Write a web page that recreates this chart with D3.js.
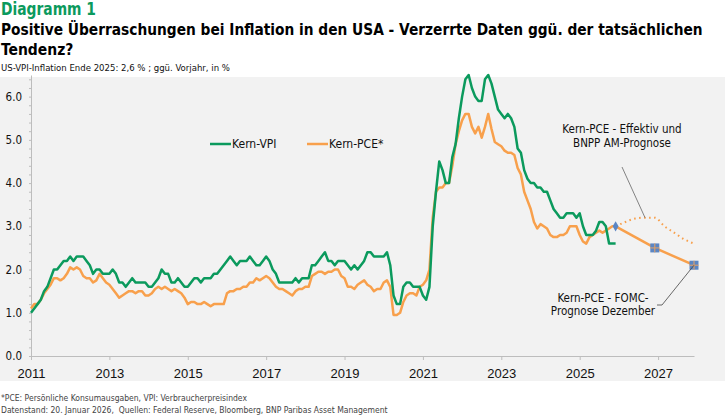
<!DOCTYPE html>
<html lang="de">
<head>
<meta charset="UTF-8">
<title>Diagramm 1</title>
<style>
  body { margin: 0; background: #fff; }
  svg { display: block; font-family: "Liberation Sans Narrow", "DejaVu Sans Condensed", "DejaVu Sans", sans-serif; font-stretch: condensed; }
</style>
</head>
<body>
<script src="https://cdn.jsdelivr.net/npm/d3@7"></script>
<script>
// Monatswerte ab Jan 2011, % ggü. Vorjahr
var startYear = 2011;
var kernVpi = [
  1.0, 1.1, 1.2, 1.3, 1.5, 1.6, 1.8, 2.0, 2.0, 2.1, 2.2, 2.2,
  2.3, 2.2, 2.3, 2.3, 2.3, 2.2, 2.1, 1.9, 2.0, 2.0, 1.9, 1.9,
  1.9, 2.0, 1.9, 1.7, 1.7, 1.6, 1.7, 1.8, 1.7, 1.7, 1.7, 1.7,
  1.6, 1.6, 1.7, 1.8, 2.0, 1.9, 1.9, 1.7, 1.7, 1.8, 1.7, 1.6,
  1.6, 1.7, 1.8, 1.8, 1.7, 1.8, 1.8, 1.8, 1.9, 1.9, 2.0, 2.1,
  2.2, 2.3, 2.2, 2.1, 2.2, 2.2, 2.2, 2.3, 2.2, 2.1, 2.1, 2.2,
  2.3, 2.2, 2.0, 1.9, 1.7, 1.7, 1.7, 1.7, 1.7, 1.8, 1.7, 1.8,
  1.8, 1.8, 2.1, 2.1, 2.2, 2.3, 2.4, 2.2, 2.2, 2.1, 2.2, 2.2,
  2.2, 2.1, 2.0, 2.1, 2.0, 2.1, 2.2, 2.4, 2.4, 2.3, 2.3, 2.3,
  2.3, 2.4, 2.1, 1.4, 1.2, 1.2, 1.6, 1.7, 1.7, 1.6, 1.6, 1.6,
  1.4, 1.3, 1.6, 3.0, 3.8, 4.5, 4.3, 4.0, 4.0, 4.6, 4.9, 5.5,
  6.0, 6.4, 6.5, 6.2, 6.0, 5.9, 5.9, 6.4, 6.5, 6.3, 6.0, 5.7,
  5.6, 5.5, 5.6, 5.5, 5.3, 4.8, 4.7, 4.3, 4.1, 4.0, 4.0, 3.9,
  3.9, 3.8, 3.8, 3.6, 3.4, 3.3, 3.2, 3.2, 3.3, 3.3, 3.3, 3.2,
  3.3, 3.0, 2.8, 2.8, 2.8, 2.9, 3.1, 3.1, 3.0, 2.6, 2.6, 2.6
];
var kernPce = [
  1.1, 1.2, 1.2, 1.3, 1.45, 1.55, 1.65, 1.8, 1.8, 1.75, 1.8, 1.9,
  2.05, 2.0, 2.05, 2.0, 1.85, 1.8, 1.8, 1.7, 1.75, 1.9, 1.8, 1.7,
  1.65, 1.55, 1.45, 1.35, 1.4, 1.45, 1.5, 1.5, 1.45, 1.5, 1.5, 1.4,
  1.4, 1.45, 1.55, 1.6, 1.55, 1.6, 1.55, 1.5, 1.55, 1.5, 1.45, 1.35,
  1.2, 1.25, 1.25, 1.2, 1.2, 1.25, 1.2, 1.15, 1.2, 1.2, 1.2, 1.2,
  1.45, 1.5, 1.5, 1.55, 1.55, 1.6, 1.6, 1.7, 1.7, 1.8, 1.75, 1.8,
  1.85, 1.8, 1.7, 1.6, 1.55, 1.55, 1.5, 1.45, 1.4, 1.5, 1.55, 1.55,
  1.6, 1.6, 1.85, 1.9, 1.95, 1.95, 1.9, 1.95, 1.95, 2.0, 2.0, 1.85,
  1.8, 1.6, 1.6, 1.55, 1.65, 1.7, 1.75, 1.65, 1.6, 1.5, 1.55, 1.55,
  1.7, 1.75, 1.6, 0.95, 0.95, 1.0, 1.25, 1.4, 1.45, 1.45, 1.4, 1.6,
  1.65, 1.75, 2.0, 3.2, 3.8, 3.9, 3.9, 4.0, 4.0, 4.4, 4.9, 5.2,
  5.45, 5.6, 5.6, 5.3, 5.15, 5.3, 5.05, 5.3, 5.6, 5.25, 4.95, 4.9,
  4.85, 4.75, 4.7, 4.7, 4.65, 4.35, 4.2, 3.8, 3.6, 3.4, 3.1, 2.95,
  3.05, 3.0, 2.95, 2.8, 2.75, 2.75, 2.8, 2.8, 2.85, 3.0, 3.0, 3.0,
  2.8, 2.65, 2.6, 2.75, 2.8, 2.85, 2.9, 2.85, 2.9, 2.95, 3.0
];
// Prognosen (Jahr als Dezimalzahl, Dez = x + 11/12)
var fomcDates = [2025 + 11 / 12, 2026 + 11 / 12, 2027 + 11 / 12];
var fomcValues = [3.0, 2.5, 2.1];
var bnppDates = [2025 + 11 / 12, 2026 + 2 / 12, 2026 + 5 / 12, 2026 + 8 / 12, 2026 + 11 / 12, 2027 + 2 / 12, 2027 + 5 / 12, 2027 + 8 / 12, 2027 + 11 / 12];
var bnppValues = [3.0, 3.1, 3.18, 3.2, 3.2, 3.0, 2.85, 2.7, 2.6];
var xTicks = [2011, 2013, 2015, 2017, 2019, 2021, 2023, 2025, 2027];
var yTicks = [0, 1, 2, 3, 4, 5, 6];

var W = 725, H = 416;
var green = "#0b9a5d", orange = "#f8a04c", blue = "#5b86c4";

var svg = d3.select("body").append("svg").attr("width", W).attr("height", H);

// Kopf
svg.append("text").attr("x", 1).attr("y", 15).attr("fill", green)
  .attr("font-size", 17).attr("font-weight", "bold")
  .attr("textLength", 95).attr("lengthAdjust", "spacingAndGlyphs").text("Diagramm 1");
svg.append("text").attr("x", 1).attr("y", 34.5).attr("fill", "#000")
  .attr("font-size", 15.3).attr("font-weight", "bold")
  .text("Positive Überraschungen bei Inflation in den USA - Verzerrte Daten ggü. der tatsächlichen");
svg.append("text").attr("x", 1).attr("y", 55).attr("fill", "#000")
  .attr("font-size", 15.5).attr("font-weight", "bold").text("Tendenz?");
svg.append("text").attr("x", 1).attr("y", 70.5).attr("fill", "#111")
  .attr("font-size", 9.5).text("US-VPI-Inflation Ende 2025: 2,6 % ; ggü. Vorjahr, in %");

// Hintergrund
svg.append("rect").attr("x", 0).attr("y", 77).attr("width", W).attr("height", 304).attr("fill", "#f2f2f2");

var x = d3.scaleLinear().domain([2011, 2011 + 203 / 12]).range([31, 694]);
var y = d3.scaleLinear().domain([0, 6.5]).range([356, 75]);

// Achsen
var xAxis = svg.append("g").attr("transform", "translate(0," + y(0) + ")")
  .call(d3.axisBottom(x).tickValues(xTicks).tickFormat(d3.format("d")).tickSize(4).tickSizeOuter(0));
xAxis.select(".domain").attr("stroke", "#bdbdbd");
xAxis.selectAll(".tick line").attr("stroke", "#bdbdbd");
xAxis.selectAll(".tick text").attr("font-size", 13).attr("fill", "#111").attr("dy", "1.15em")
  .attr("font-family", "inherit");

var yAxis = svg.append("g").attr("transform", "translate(" + x(2011) + ",0)")
  .call(d3.axisLeft(y).tickValues(d3.range(0, 6.5, 0.2)).tickSize(2).tickFormat("").tickSizeOuter(0));
yAxis.select(".domain").attr("stroke", "#bdbdbd");
yAxis.selectAll(".tick line").attr("stroke", "#bdbdbd");
svg.append("g").selectAll("text").data(yTicks).join("text")
  .attr("x", 22).attr("y", function (d) { return y(d) + 4; })
  .attr("text-anchor", "end").attr("font-size", 11.5).attr("fill", "#111")
  .text(function (d) { return d3.format(".1f")(d); });

var line = d3.line()
  .x(function (d) { return x(d[0]); })
  .y(function (d) { return y(d[1]); });
function monthly(arr) {
  return arr.map(function (v, i) { return [startYear + i / 12, v]; });
}

// BNPP AM Prognose (gepunktet)
svg.append("path").datum(d3.zip(bnppDates, bnppValues))
  .attr("d", line.curve(d3.curveMonotoneX)).attr("fill", "none")
  .attr("stroke", orange).attr("stroke-width", 2).attr("stroke-dasharray", "1.6,3.4");
line.curve(d3.curveLinear);

// Kern-PCE mit FOMC-Prognose
var pceFull = monthly(kernPce).concat(d3.zip(fomcDates, fomcValues));
svg.append("path").datum(pceFull).attr("d", line).attr("fill", "none")
  .attr("stroke", orange).attr("stroke-width", 2.5).attr("stroke-linejoin", "round");

svg.append("path").datum(monthly(kernVpi)).attr("d", line).attr("fill", "none")
  .attr("stroke", green).attr("stroke-width", 2.5).attr("stroke-linejoin", "round");

// Marker
svg.append("path").attr("d", d3.symbol(d3.symbolDiamond, 30)())
  .attr("transform", "translate(" + x(fomcDates[0]) + "," + y(fomcValues[0]) + ")").attr("fill", blue);
var sq = svg.append("g").selectAll("g").data(d3.zip(fomcDates, fomcValues).slice(1)).join("g")
  .attr("transform", function (d) { return "translate(" + x(d[0]) + "," + y(d[1]) + ")"; });
sq.append("rect").attr("x", -4.5).attr("y", -4.5).attr("width", 9).attr("height", 9).attr("fill", blue);
sq.append("line").attr("x1", -4.5).attr("x2", 4.5).attr("stroke", "#e8a060").attr("stroke-width", 1);
sq.append("line").attr("y1", -4.5).attr("y2", 4.5).attr("stroke", "#e8a060").attr("stroke-width", 1);

// Legende
var legend = [["Kern-VPI", green, 210], ["Kern-PCE*", orange, 307]];
var lg = svg.append("g").selectAll("g").data(legend).join("g")
  .attr("transform", function (d) { return "translate(" + d[2] + ",144)"; });
lg.append("line").attr("x1", 0).attr("x2", 21).attr("stroke", function (d) { return d[1]; }).attr("stroke-width", 2.5);
lg.append("text").attr("x", 22).attr("y", 4).attr("font-size", 12).attr("fill", "#111")
  .text(function (d) { return d[0]; });

// Beschriftungen
var ann = svg.append("g").attr("font-size", 11.5).attr("fill", "#111").attr("text-anchor", "middle");
ann.append("text").attr("x", 622).attr("y", 133).text("Kern-PCE - Effektiv und");
ann.append("text").attr("x", 622).attr("y", 147).text("BNPP AM-Prognose");
ann.append("text").attr("x", 603).attr("y", 301.5).text("Kern-PCE - FOMC-");
ann.append("text").attr("x", 603).attr("y", 315).text("Prognose Dezember");
svg.append("line").attr("x1", 622).attr("y1", 167).attr("x2", x(bnppDates[3])).attr("y2", y(bnppValues[3]))
  .attr("stroke", "#666").attr("stroke-width", 0.8);
svg.append("polyline")
  .attr("points", [[657, 305], [662, 305], [x(fomcDates[2]), y(fomcValues[2])]].join(" "))
  .attr("fill", "none").attr("stroke", "#444").attr("stroke-width", 0.8);

// Fussnoten
var foot = svg.append("g").attr("font-size", 8.5).attr("fill", "#444");
foot.append("text").attr("x", 1).attr("y", 401).text("*PCE: Persönliche Konsumausgaben, VPI: Verbraucherpreisindex");
foot.append("text").attr("x", 1).attr("y", 413).attr("xml:space", "preserve")
  .text("Datenstand: 20. Januar 2026,  Quellen: Federal Reserve, Bloomberg, BNP Paribas Asset Management");
</script>
</body>
</html>
